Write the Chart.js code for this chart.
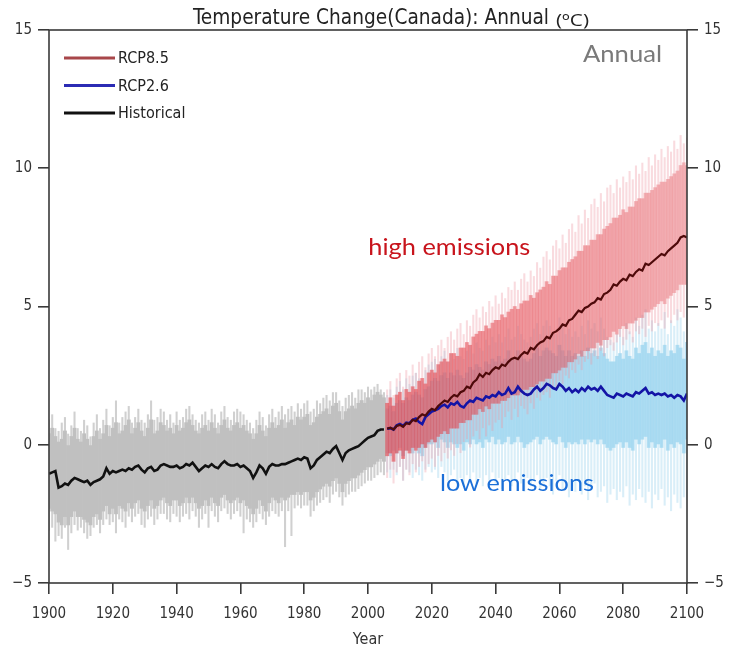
<!DOCTYPE html>
<html>
<head>
<meta charset="utf-8">
<script src="https://cdn.jsdelivr.net/npm/chart.js@4.4.1/dist/chart.umd.min.js"></script>
<style>
  html, body { margin: 0; padding: 0; background: #fff; }
  canvas { display: block; }
</style>
</head>
<body>
<canvas id="chart" width="729" height="653"></canvas>
<script>
// ---- axes -----------------------------------------------------------
const yTicks = [-5, 0, 5, 10, 15];
const xTicks = [1900, 1920, 1940, 1960, 1980, 2000, 2020, 2040, 2060, 2080, 2100];
const HIST_START = 1900;   // historical runs 1900-2005
const FUT_START = 2006;    // scenario runs 2006-2100

// ---- historical (1900-2005) ----------------------------------------
const histMean = [
  -1.05, -1.0, -0.95, -1.55, -1.5, -1.4, -1.45, -1.3, -1.2, -1.25,
  -1.3, -1.35, -1.3, -1.45, -1.35, -1.3, -1.25, -1.15, -0.85, -1.05,
  -0.95, -1.0, -0.95, -0.9, -0.95, -0.85, -0.9, -0.8, -0.75, -0.9,
  -1.0, -0.85, -0.8, -0.95, -0.9, -0.75, -0.7, -0.75, -0.8, -0.8,
  -0.75, -0.85, -0.8, -0.7, -0.75, -0.65, -0.8, -0.95, -0.85, -0.75,
  -0.8, -0.7, -0.8, -0.85, -0.7, -0.6, -0.7, -0.75, -0.75, -0.7,
  -0.8, -0.75, -0.85, -0.95, -1.2, -1.0, -0.75, -0.85, -1.05, -0.8,
  -0.7, -0.75, -0.75, -0.7, -0.7, -0.65, -0.6, -0.55, -0.5, -0.55,
  -0.45, -0.5, -0.85, -0.75, -0.55, -0.45, -0.35, -0.25, -0.3, -0.15,
  -0.05, -0.3, -0.55, -0.3, -0.2, -0.15, -0.1, -0.05, 0.05, 0.15,
  0.25, 0.3, 0.35, 0.5, 0.55, 0.55
];
const histCoreHi = [
  0.4, 0.6, 0.3, 0.1, 0.2, 0.5, 0.0, 0.3, 0.6, 0.2,
  0.1, 0.4, 0.2, 0.0, 0.3, 0.5, 0.2, 0.4, 0.7, 0.3,
  0.6, 0.8, 0.4, 0.5, 0.7, 0.9, 0.4, 0.6, 0.8, 0.5,
  0.3, 0.6, 0.9, 0.4, 0.5, 0.8, 0.7, 0.5, 0.6, 0.4,
  0.7, 0.5, 0.6, 0.8, 0.9, 0.7, 0.5, 0.4, 0.6, 0.7,
  0.5, 0.8, 0.6, 0.4, 0.7, 0.9, 0.6, 0.5, 0.7, 0.8,
  0.6, 0.7, 0.5, 0.4, 0.2, 0.4, 0.7, 0.5, 0.3, 0.6,
  0.8, 0.6, 0.7, 0.9, 0.6, 0.8, 0.9, 0.7, 1.0, 0.9,
  1.0, 1.1, 0.7, 0.8, 1.0, 1.1, 1.2, 1.3, 1.1, 1.4,
  1.5, 1.2, 0.9, 1.2, 1.3, 1.4, 1.3, 1.5, 1.6, 1.5,
  1.7, 1.6, 1.8, 1.9, 1.8, 1.7
];
const histCoreLo = [
  -2.3, -2.4, -2.5, -2.8, -2.9, -2.6, -2.9, -2.6, -2.4, -2.6,
  -2.6, -2.7, -2.8, -2.9, -2.6, -2.5, -2.7, -2.4, -2.2, -2.5,
  -2.3, -2.5, -2.2, -2.3, -2.4, -2.1, -2.3, -2.1, -2.0, -2.3,
  -2.4, -2.2, -2.0, -2.3, -2.2, -2.0, -1.9, -2.1, -2.2, -2.0,
  -2.0, -2.2, -2.1, -1.9, -2.1, -1.9, -2.1, -2.3, -2.2, -2.0,
  -2.2, -1.9, -2.1, -2.2, -1.9, -1.8, -2.0, -2.1, -2.0, -1.9,
  -2.1, -2.0, -2.2, -2.3, -2.5, -2.3, -2.0, -2.2, -2.4, -2.1,
  -1.9, -2.0, -2.1, -1.9, -2.0, -1.9, -1.8, -1.8, -1.7, -1.8,
  -1.7, -1.7, -2.0, -1.9, -1.7, -1.6, -1.5, -1.4, -1.5, -1.3,
  -1.2, -1.4, -1.7, -1.4, -1.3, -1.2, -1.2, -1.1, -1.0, -0.9,
  -0.8, -0.8, -0.7, -0.6, -0.5, -0.6
];
const histOuterHi = [
  0.9, 1.1, 0.6, 0.5, 0.8, 1.0, 0.4, 0.7, 1.2, 0.6,
  0.5, 0.9, 0.7, 0.3, 0.8, 1.1, 0.6, 0.9, 1.3, 0.7,
  1.0, 1.6, 0.8, 1.0, 1.2, 1.4, 0.8, 1.0, 1.3, 0.9,
  0.8, 1.1, 1.6, 0.9, 1.0, 1.3, 1.2, 0.9, 1.1, 0.8,
  1.2, 0.9, 1.0, 1.3, 1.4, 1.1, 0.9, 0.8, 1.1, 1.2,
  0.9, 1.3, 1.1, 0.8, 1.2, 1.4, 1.0, 0.9, 1.2, 1.3,
  1.2, 1.1, 0.9, 0.8, 0.6, 0.9, 1.2, 1.0, 0.7, 1.1,
  1.3, 1.0, 1.2, 1.4, 1.1, 1.3, 1.4, 1.2, 1.5, 1.3,
  1.5, 1.6, 1.2, 1.3, 1.6, 1.5, 1.7, 1.8, 1.6, 1.9,
  1.9, 1.6, 1.4, 1.7, 1.8, 1.9, 1.7, 2.0, 2.0, 1.9,
  2.1, 2.0, 2.1, 2.2, 2.0, 1.9
];
const histOuterLo = [
  -3.1, -3.0, -3.5, -3.3, -3.4, -3.0, -3.8, -3.2, -2.9, -3.1,
  -3.0, -3.2, -3.4, -3.3, -3.0, -2.9, -3.2, -2.9, -2.7, -2.9,
  -2.8, -3.2, -2.7, -2.8, -3.0, -2.6, -2.8, -2.6, -2.5, -2.9,
  -3.0, -2.7, -2.6, -2.9, -2.7, -2.5, -2.5, -2.7, -2.8, -2.5,
  -2.6, -2.8, -2.6, -2.5, -2.7, -2.4, -2.6, -3.0, -2.7, -2.5,
  -3.0, -2.4, -2.6, -2.8, -2.4, -2.3, -2.5, -2.7, -2.5, -2.4,
  -2.6, -3.2, -2.7, -2.8, -3.0, -2.8, -2.5, -2.7, -2.9, -2.6,
  -2.4, -2.5, -2.6, -2.4, -3.7, -2.4, -3.3, -2.3, -2.2, -2.3,
  -2.2, -2.2, -2.6, -2.4, -2.2, -2.1, -2.0, -1.9, -2.1, -1.8,
  -1.7, -1.9, -2.2, -1.9, -1.8, -1.7, -1.7, -1.6, -1.5, -1.4,
  -1.3, -1.3, -1.2, -1.1, -1.0, -1.1
];

// ---- RCP8.5 (2006-2100) --------------------------------------------
const rcp85Mean = [
  0.58, 0.62, 0.55, 0.68, 0.72, 0.65, 0.78, 0.75, 0.9, 0.85,
  1.0, 1.1, 1.05, 1.2, 1.3,
  1.25, 1.4, 1.5, 1.6, 1.55,
  1.7, 1.8, 1.75, 1.9, 1.95,
  2.1, 2.05, 2.25, 2.35, 2.55,
  2.45, 2.6, 2.55, 2.7, 2.8,
  2.75, 2.9, 2.85, 3.0, 3.1,
  3.15, 3.1, 3.25, 3.35, 3.3,
  3.5, 3.45, 3.6, 3.7, 3.75,
  3.9, 3.85, 4.05, 4.1, 4.2,
  4.35, 4.3, 4.5, 4.55, 4.7,
  4.85, 4.8, 4.95, 5.0, 5.1,
  5.15, 5.3, 5.25, 5.45, 5.5,
  5.6, 5.8, 5.75, 5.9, 6.0,
  5.95, 6.15, 6.1, 6.25, 6.35,
  6.3, 6.55, 6.5, 6.6, 6.7,
  6.8, 6.9, 6.85, 7.0, 7.1,
  7.2, 7.3, 7.5, 7.55, 7.5
];
const rcp85OuterHi = [
  2.0, 2.3, 1.8, 2.4, 2.6, 2.1, 2.7, 2.5, 2.9, 2.6,
  3.0, 3.2, 2.8, 3.3, 3.5,
  3.2, 3.6, 3.8, 3.5, 3.9,
  4.1, 3.8, 4.2, 4.4, 4.0,
  4.5, 4.3, 4.7, 4.9, 4.6,
  5.0, 4.8, 5.2, 5.0, 5.4,
  5.1, 5.5, 5.3, 5.7, 5.6,
  5.9, 5.6, 6.0, 6.2, 5.9,
  6.3, 6.1, 6.6, 6.4, 6.8,
  7.0, 6.7, 7.2, 7.4, 7.1,
  7.6, 7.3, 7.8, 8.0, 7.7,
  8.3, 8.0, 8.5, 8.2, 8.7,
  8.9, 8.6, 9.1, 8.8, 9.3,
  9.4, 9.1, 9.6, 9.3, 9.7,
  9.5, 9.9, 9.6, 10.1, 9.8,
  10.2, 9.9, 10.4, 10.1, 10.5,
  10.3, 10.7, 10.4, 10.8, 10.6,
  11.0, 10.7, 11.2, 10.9, 11.1
];
const rcp85OuterLo = [
  -1.2, -0.9, -1.4, -1.0, -0.8, -1.3, -0.9, -1.1, -0.7, -1.0,
  -0.8, -0.6, -1.0, -0.7, -0.5,
  -0.8, -0.4, -0.6, -0.3, -0.5,
  -0.2, -0.4, 0.0, -0.3, 0.1,
  0.2, -0.1, 0.3, 0.5, 0.2,
  0.6, 0.3, 0.7, 0.5, 0.8,
  0.9, 0.6, 1.0, 1.2, 0.9,
  1.3, 1.0, 1.4, 1.3, 1.1,
  1.5, 1.3, 1.7, 1.6, 1.8,
  1.9, 1.7, 2.1, 2.0, 2.3,
  2.2, 2.5, 2.4, 2.7, 2.6,
  2.9, 2.7, 3.0, 3.1, 2.9,
  3.2, 3.1, 3.4, 3.2, 3.5,
  3.6, 3.4, 3.7, 3.9, 3.6,
  3.8, 4.0, 3.7, 4.1, 4.0,
  4.2, 3.9, 4.3, 4.1, 4.4,
  4.3, 4.5, 4.2, 4.6, 4.4,
  4.7, 4.5, 4.8, 4.6, 4.9
];
const rcp85CoreHi = [
  1.5, 1.7, 1.4, 1.8, 1.9, 1.6, 2.0, 1.9, 2.1, 2.0,
  2.3, 2.4, 2.2, 2.6, 2.7,
  2.6, 2.9, 3.0, 3.1, 3.0,
  3.3, 3.3, 3.2, 3.5, 3.5,
  3.7, 3.6, 3.9, 4.0, 4.1,
  4.1, 4.3, 4.2, 4.4, 4.5,
  4.5, 4.7, 4.6, 4.8, 4.9,
  5.0, 4.9, 5.1, 5.2, 5.2,
  5.4, 5.3, 5.5, 5.6, 5.7,
  5.9, 5.8, 6.1, 6.1, 6.3,
  6.4, 6.4, 6.6, 6.7, 6.8,
  7.0, 7.0, 7.2, 7.2, 7.4,
  7.4, 7.6, 7.6, 7.8, 7.9,
  8.0, 8.2, 8.2, 8.3, 8.5,
  8.4, 8.6, 8.6, 8.8, 8.9,
  8.9, 9.1, 9.1, 9.2, 9.3,
  9.4, 9.5, 9.5, 9.6, 9.7,
  9.8, 9.9, 10.1, 10.2, 10.1
];
const rcp85CoreLo = [
  -0.4, -0.3, -0.6, -0.3, -0.2, -0.5, -0.2, -0.3, -0.1, -0.2,
  -0.1, 0.0, -0.1, 0.1, 0.2,
  0.1, 0.3, 0.4, 0.5, 0.4,
  0.6, 0.6, 0.6, 0.8, 0.8,
  0.9, 0.9, 1.1, 1.1, 1.3,
  1.2, 1.4, 1.3, 1.5, 1.5,
  1.5, 1.6, 1.6, 1.7, 1.8,
  1.8, 1.8, 1.9, 2.0, 2.0,
  2.1, 2.1, 2.2, 2.3, 2.3,
  2.4, 2.4, 2.6, 2.6, 2.7,
  2.8, 2.8, 3.0, 3.0, 3.1,
  3.3, 3.2, 3.4, 3.4, 3.5,
  3.5, 3.7, 3.6, 3.8, 3.8,
  3.9, 4.1, 4.0, 4.2, 4.3,
  4.2, 4.4, 4.4, 4.5, 4.6,
  4.6, 4.8, 4.8, 4.9, 5.0,
  5.1, 5.2, 5.1, 5.3, 5.4,
  5.5, 5.6, 5.8, 5.8, 5.8
];

// ---- RCP2.6 (2006-2100) --------------------------------------------
const rcp26Mean = [
  0.58, 0.6, 0.55, 0.7, 0.75, 0.68, 0.8, 0.78, 0.9, 0.95,
  0.82, 0.75, 1.0, 1.1, 1.2,
  1.25, 1.3, 1.4, 1.45, 1.35,
  1.5, 1.45, 1.55, 1.4, 1.35,
  1.5, 1.6, 1.55, 1.7, 1.65,
  1.6, 1.75, 1.7, 1.8, 1.75,
  1.9, 1.8, 1.85, 2.05, 1.85,
  1.9, 2.1, 1.95, 1.85, 1.8,
  1.85, 2.0, 2.1, 1.95, 2.05,
  2.2, 2.15, 2.05, 2.0, 2.2,
  2.1, 1.95, 2.05, 1.9, 2.0,
  1.9, 2.05, 1.95, 2.1, 2.0,
  2.05, 1.95, 2.1, 1.95, 1.8,
  1.75, 1.7, 1.85, 1.8, 1.75,
  1.85, 1.8, 1.75, 1.9, 1.85,
  1.95, 2.05, 1.85, 1.9, 1.8,
  1.85, 1.8, 1.85, 1.75, 1.8,
  1.7, 1.8, 1.75, 1.6, 1.85
];
const rcp26OuterHi = [
  1.8, 2.0, 1.7, 2.1, 2.3, 2.0, 2.4, 2.2, 2.5, 2.6,
  2.4, 2.3, 2.7, 2.9, 3.0,
  3.1, 2.9, 3.2, 3.4, 3.0,
  3.3, 3.1, 3.5, 3.2, 3.1,
  3.4, 3.6, 3.3, 3.7, 3.5,
  3.4, 3.8, 3.6, 3.9, 3.7,
  4.0, 3.7, 3.9, 4.2, 3.8,
  3.9, 4.3, 4.0, 3.8, 3.7,
  3.9, 4.2, 4.4, 4.0, 4.3,
  4.5, 4.3, 4.1, 4.0, 4.6,
  4.3, 4.0, 4.2, 3.9, 4.1,
  3.9, 4.3, 4.0, 4.5, 4.2,
  4.4, 4.1, 4.6, 4.2, 3.9,
  3.8, 3.7, 4.0, 4.2, 3.9,
  4.4, 4.1, 3.9, 4.6, 4.3,
  4.7, 4.9, 4.2, 4.5, 4.1,
  4.4, 4.2, 4.8, 4.0, 4.5,
  4.3, 4.9, 4.6, 4.1, 5.0
];
const rcp26OuterLo = [
  -1.0, -1.2, -0.9, -1.1, -0.8, -1.3, -0.9, -1.0, -1.2, -0.9,
  -1.1, -1.3, -0.9, -0.8, -1.0,
  -0.9, -1.2, -0.8, -1.0, -1.3,
  -1.1, -0.9, -1.4, -1.2, -1.5,
  -1.1, -1.3, -1.0, -1.4, -1.2,
  -1.5, -1.1, -1.3, -1.0, -1.4,
  -1.2, -1.6, -1.3, -1.1, -1.5,
  -1.3, -1.0, -1.4, -1.7, -1.2,
  -1.5, -1.3, -1.1, -1.6, -1.4,
  -1.2, -1.5, -1.8, -1.3, -1.1,
  -1.6, -1.4, -1.9, -1.5, -1.7,
  -1.3, -1.8, -1.5, -2.0, -1.6,
  -1.4, -1.9, -1.7, -1.5, -2.1,
  -1.8, -1.6, -2.0, -1.7, -1.9,
  -1.5, -2.2, -1.8, -2.0, -1.6,
  -1.9, -2.1, -1.7, -2.3, -1.8,
  -2.0, -1.6, -2.2, -1.9, -2.4,
  -1.8, -2.1, -2.3, -1.9, -2.0
];
const rcp26CoreHi = [
  1.3, 1.4, 1.2, 1.5, 1.6, 1.5, 1.7, 1.6, 1.8, 1.9,
  1.8, 1.7, 2.0, 2.1, 2.3,
  2.4, 2.3, 2.5, 2.6, 2.4,
  2.6, 2.5, 2.7, 2.5, 2.4,
  2.6, 2.8, 2.7, 2.9, 2.8,
  2.7, 3.0, 2.9, 3.1, 3.0,
  3.2, 3.0, 3.1, 3.4, 3.1,
  3.1, 3.4, 3.2, 3.1, 3.0,
  3.1, 3.3, 3.5, 3.2, 3.4,
  3.5, 3.4, 3.3, 3.2, 3.6,
  3.4, 3.2, 3.4, 3.2, 3.3,
  3.2, 3.4, 3.2, 3.5, 3.3,
  3.4, 3.2, 3.5, 3.3, 3.1,
  3.0, 3.0, 3.2, 3.3, 3.1,
  3.4, 3.2, 3.1, 3.5, 3.3,
  3.6, 3.7, 3.3, 3.5, 3.2,
  3.4, 3.3, 3.6, 3.2, 3.4,
  3.3, 3.6, 3.5, 3.1, 3.7
];
const rcp26CoreLo = [
  -0.3, -0.4, -0.2, -0.3, -0.1, -0.4, -0.2, -0.2, -0.3, -0.1,
  -0.3, -0.4, -0.1, 0.0, 0.0,
  0.1, -0.1, 0.2, 0.1, -0.1,
  0.1, 0.0, -0.1, 0.0, -0.2,
  0.1, 0.0, 0.2, 0.0, 0.1,
  -0.1, 0.2, 0.1, 0.3, 0.0,
  0.2, 0.0, 0.1, 0.3, 0.0,
  0.1, 0.3, 0.1, -0.1, 0.0,
  0.1, 0.2, 0.3, 0.0, 0.2,
  0.3, 0.2, 0.1, 0.0, 0.3,
  0.1, -0.1, 0.1, 0.0, 0.1,
  0.0, 0.2, 0.0, 0.2, 0.1,
  0.2, 0.0, 0.2, 0.0, -0.1,
  -0.2, -0.1, 0.0, 0.1, -0.1,
  0.1, -0.1, -0.2, 0.2, 0.0,
  0.2, 0.3, -0.1, 0.1, -0.1,
  0.0, -0.1, 0.2, -0.2, 0.0,
  -0.1, 0.1, 0.0, -0.3, 0.2
];

// ---- helpers --------------------------------------------------------
function series(start, values) {
  return values.map((v, i) => ({ x: start + i, y: v }));
}
function band(start, lo, hi) {
  return lo.map((v, i) => ({ x: start + i, y: [v, hi[i]] }));
}
function bandSet(data, color, thickness, order) {
  return {
    type: 'bar', data, backgroundColor: color, borderWidth: 0,
    barPercentage: thickness, categoryPercentage: 1, grouped: false, order
  };
}
function lineSet(label, data, color, width, legendColor, order) {
  return {
    type: 'line', label, data, borderColor: color, legendColor,
    borderWidth: width, pointRadius: 0, tension: 0, fill: false, order
  };
}
// red spread fades from deep red in the early decades to pink at the end
function fadingRed(c) {
  const t = c.dataIndex / (rcp85CoreLo.length - 1);
  return `rgba(228, ${58 + 30 * t}, ${66 + 30 * t}, ${0.58 - 0.22 * t})`;
}

const NARROW = '"Liberation Sans Narrow", "DejaVu Sans Condensed", "Liberation Sans", sans-serif';
const CAPTION = '"Lato", "Noto Sans", sans-serif';
const AXIS_COLOR = '#3a3a3a';

// draw text stretched to a given width
function fitText(ctx, text, x, y, width, font) {
  ctx.font = font;
  const w = ctx.measureText(text).width;
  ctx.save();
  ctx.translate(x, y);
  ctx.scale(width / w, 1);
  ctx.fillText(text, 0, 0);
  ctx.restore();
}

// Title, frame, inner legend and scenario captions
const overlay = {
  id: 'overlay',
  afterDatasetsDraw(chart) {
    const { ctx, chartArea: a, scales } = chart;
    ctx.save();

    // plot frame
    ctx.strokeStyle = AXIS_COLOR;
    ctx.lineWidth = 1.6;
    ctx.strokeRect(a.left, a.top, a.right - a.left, a.bottom - a.top);

    // title
    ctx.fillStyle = '#222';
    ctx.textBaseline = 'alphabetic';
    ctx.textAlign = 'left';
    const tx = a.left + 144, ty = 24;
    fitText(ctx, 'Temperature Change(Canada): Annual', tx, ty, 356, '21px ' + NARROW);
    fitText(ctx, '(\u00BAC)', tx + 363, ty + 2, 33, '17px "Open Sans", sans-serif');

    // legend inside the plot
    const items = chart.data.datasets.filter(d => d.label);
    ctx.font = '16px ' + NARROW;
    ctx.textBaseline = 'middle';
    items.forEach((d, i) => {
      const y = a.top + 28 + i * 27.5;
      ctx.strokeStyle = d.legendColor;
      ctx.lineWidth = 3;
      ctx.beginPath();
      ctx.moveTo(a.left + 15, y);
      ctx.lineTo(a.left + 66, y);
      ctx.stroke();
      ctx.fillStyle = '#222';
      ctx.fillText(d.label, a.left + 69, y + 1);
    });

    // "Annual" tag
    ctx.fillStyle = '#7a7a7a';
    ctx.textBaseline = 'middle';
    fitText(ctx, 'Annual', a.right - 104, a.top + 24, 79, '24px ' + CAPTION);

    // scenario captions, anchored in data space
    const xs = scales.x, ys = scales.y;
    ctx.fillStyle = '#c8141c';
    fitText(ctx, 'high emissions', xs.getPixelForValue(2025.5) - 81, ys.getPixelForValue(7.15), 162, '24px ' + CAPTION);
    ctx.fillStyle = '#1b6fd8';
    fitText(ctx, 'low emissions', xs.getPixelForValue(2046.7) - 77, ys.getPixelForValue(-1.4), 154, '24px ' + CAPTION);

    ctx.restore();
  }
};

const tickFont = { family: NARROW, size: 15 };
const yAxis = (position, width) => ({
  type: 'linear', position, min: -5, max: 15,
  afterBuildTicks: s => { s.ticks = yTicks.map(v => ({ value: v })); },
  afterFit: s => { s.width = width; },
  ticks: {
    font: tickFont, color: '#333', padding: 6,
    callback: v => String(v).replace('-', '\u2212')
  },
  grid: { drawOnChartArea: false, drawTicks: true, tickLength: 11, color: AXIS_COLOR, lineWidth: 1.6 },
  border: { display: false }
});

new Chart(document.getElementById('chart'), {
  type: 'line',
  data: {
    datasets: [
      lineSet('RCP8.5', series(FUT_START, rcp85Mean), '#4e0a0a', 2.2, '#a8474a', 1),
      lineSet('RCP2.6', series(FUT_START, rcp26Mean), '#1414a6', 2.6, '#2b2bb4', 2),
      lineSet('Historical', series(HIST_START, histMean), '#111111', 2.6, '#111111', 3),
      bandSet(band(FUT_START, rcp85CoreLo, rcp85CoreHi), fadingRed, 1, 4),
      bandSet(band(FUT_START, rcp85OuterLo, rcp85OuterHi), 'rgba(238, 150, 160, 0.34)', 0.65, 5),
      bandSet(band(HIST_START, histCoreLo, histCoreHi), '#c0c0c0', 1, 6),
      bandSet(band(HIST_START, histOuterLo, histOuterHi), '#d0d0d0', 0.65, 7),
      bandSet(band(FUT_START, rcp26CoreLo, rcp26CoreHi), 'rgba(140, 206, 238, 0.62)', 1, 8),
      bandSet(band(FUT_START, rcp26OuterLo, rcp26OuterHi), 'rgba(180, 222, 242, 0.50)', 0.65, 9)
    ]
  },
  options: {
    responsive: false,
    animation: false,
    events: [],
    layout: { padding: { top: 30, left: 0, right: 0, bottom: 0 } },
    plugins: { legend: { display: false }, tooltip: { enabled: false }, title: { display: false } },
    scales: {
      x: {
        type: 'linear', position: 'bottom', min: 1900, max: 2100, offset: false,
        afterBuildTicks: s => { s.ticks = xTicks.map(v => ({ value: v })); },
        afterFit: s => { s.height = 70; },
        ticks: { font: tickFont, color: '#333', padding: 11, maxRotation: 0, callback: v => String(v) },
        grid: { drawOnChartArea: false, drawTicks: true, tickLength: 11, color: AXIS_COLOR, lineWidth: 1.6, offset: false },
        border: { display: false },
        title: { display: true, text: 'Year', font: { family: NARROW, size: 16 }, color: '#333', padding: { top: 5 } }
      },
      y: yAxis('left', 49),
      y2: yAxis('right', 42)
    }
  },
  plugins: [overlay]
});
</script>
</body>
</html>
